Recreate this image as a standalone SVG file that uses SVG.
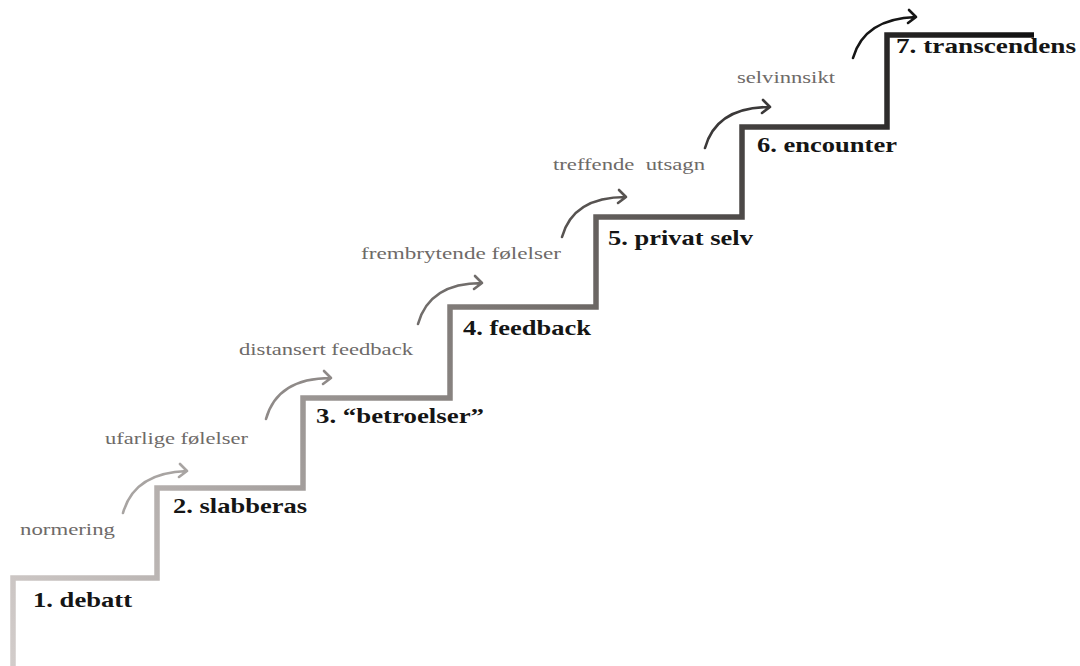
<svg xmlns="http://www.w3.org/2000/svg" width="1080" height="666" viewBox="0 0 1080 666">
  <defs>
    <!-- staircase shades from light grey at the bottom to near black at the top -->
    <linearGradient id="stairShade" gradientUnits="userSpaceOnUse" x1="13" y1="666" x2="1034" y2="35">
      <stop offset="0" stop-color="#d2ccca"/>
      <stop offset="0.25" stop-color="#a9a4a2"/>
      <stop offset="0.52" stop-color="#77726f"/>
      <stop offset="0.78" stop-color="#3f3c3b"/>
      <stop offset="1" stop-color="#111111"/>
    </linearGradient>
    <style>
      .stair { fill: none; stroke: url(#stairShade); stroke-width: 5.5; stroke-linejoin: miter; stroke-linecap: butt; }
      .arrow { fill: none; stroke-width: 2.6; stroke-linecap: round; stroke-linejoin: round; }
      .step { font-family: "Liberation Serif", "Times New Roman", serif; font-weight: bold; font-size: 22px; fill: #151515; }
      .note { font-family: "Liberation Serif", "Times New Roman", serif; font-size: 17px; fill: #6e6a68; }
    </style>
  </defs>

  <rect width="1080" height="666" fill="#ffffff"/>

  <!-- the staircase and the transition arrows -->
  <g id="connectors">
    <path class="stair" d="M 13,666 V 578 H 157 V 488 H 303 V 398 H 450 V 307 H 596 V 217 H 742 V 127 H 887 V 35 H 1034"/>
    <path class="arrow" stroke="#a8a4a2" d="M 123,513 C 131,484 155,472 187,471 M 180,464 L 187,471 L 179,477"/>
    <path class="arrow" stroke="#8f8a88" d="M 266,419 C 274,390 298,378 331,378 M 324,371 L 331,378 L 323,384"/>
    <path class="arrow" stroke="#716d6b" d="M 418,324 C 426,295 450,283 482,283 M 475,276 L 482,283 L 474,289"/>
    <path class="arrow" stroke="#575351" d="M 562,237 C 570,208 594,197 626,197 M 619,190 L 626,197 L 618,203"/>
    <path class="arrow" stroke="#3b3939" d="M 705,148 C 713,119 737,107 770,107 M 763,100 L 770,107 L 762,113"/>
    <path class="arrow" stroke="#161616" d="M 853,58 C 861,30 885,18 916,17 M 909,10 L 916,17 L 908,23"/>
  </g>

  <!-- transition notes -->
  <g id="note-normering"><text class="note" x="20" y="535" textLength="95" lengthAdjust="spacingAndGlyphs">normering</text></g>
  <g id="note-ufarlige"><text class="note" x="105" y="444" textLength="143" lengthAdjust="spacingAndGlyphs">ufarlige følelser</text></g>
  <g id="note-distansert"><text class="note" x="239" y="355" textLength="174" lengthAdjust="spacingAndGlyphs">distansert feedback</text></g>
  <g id="note-frembrytende"><text class="note" x="361" y="259" textLength="200" lengthAdjust="spacingAndGlyphs">frembrytende følelser</text></g>
  <g id="note-treffende"><text class="note" x="553" y="170" textLength="152" lengthAdjust="spacingAndGlyphs" xml:space="preserve">treffende  utsagn</text></g>
  <g id="note-selvinnsikt"><text class="note" x="737" y="83" textLength="98" lengthAdjust="spacingAndGlyphs">selvinnsikt</text></g>

  <!-- step labels -->
  <g id="step-1"><text class="step" x="33" y="607" textLength="99" lengthAdjust="spacingAndGlyphs">1. debatt</text></g>
  <g id="step-2"><text class="step" x="173" y="513" textLength="134" lengthAdjust="spacingAndGlyphs">2. slabberas</text></g>
  <g id="step-3"><text class="step" x="316" y="423" textLength="168" lengthAdjust="spacingAndGlyphs">3. “betroelser”</text></g>
  <g id="step-4"><text class="step" x="463" y="335" textLength="128" lengthAdjust="spacingAndGlyphs">4. feedback</text></g>
  <g id="step-5"><text class="step" x="608" y="245" textLength="145" lengthAdjust="spacingAndGlyphs">5. privat selv</text></g>
  <g id="step-6"><text class="step" x="757" y="152" textLength="140" lengthAdjust="spacingAndGlyphs">6. encounter</text></g>
  <g id="step-7"><text class="step" x="896" y="53" textLength="180" lengthAdjust="spacingAndGlyphs">7. transcendens</text></g>
</svg>
